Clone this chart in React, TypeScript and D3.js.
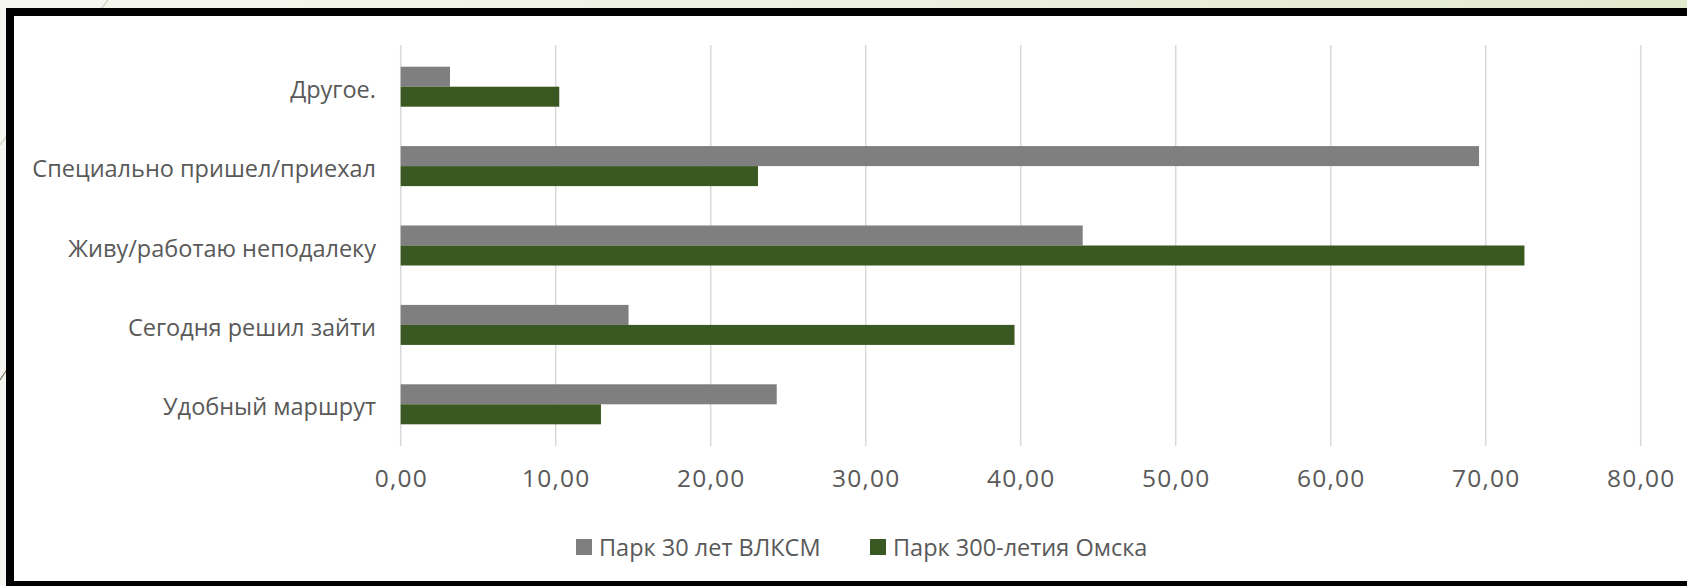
import React from "react";
import * as d3 from "d3";

const categories = [
  "Удобный маршрут",
  "Сегодня решил зайти",
  "Живу/работаю неподалеку",
  "Специально пришел/приехал",
  "Другое.",
];
const seriesNames = ["Парк 30 лет ВЛКСМ", "Парк 300-летия Омска"];
const park30 = [24.26, 14.7, 44.0, 69.57, 3.18];
const park300 = [12.92, 39.6, 72.5, 23.05, 10.23];
const xTicks = [0, 10, 20, 30, 40, 50, 60, 70, 80];
const colors = ["#7f7f7f", "#3a5922"];

const W = 1687;
const H = 586;

export default function App() {
  const x = d3.scaleLinear().domain([0, 80]).range([400.7, 1640.7]);
  const y = d3
    .scaleBand<string>()
    .domain([...categories].reverse())
    .range([47, 444])
    .paddingInner(0)
    .paddingOuter(0);
  const step = y.step();
  const groupH = step * 0.504;
  const barH = groupH / 2;
  const fmt = (v: number) => v.toFixed(2).replace(".", ",");
  const font = "'Open Sans', sans-serif";
  const textColor = "#595959";
  const series = [park30, park300];
  const ls = 1.2;

  return (
    <svg
      width={W}
      height={H}
      style={{ position: "absolute", left: 0, top: 0, display: "block" }}
    >
      <defs>
        <linearGradient id="bg" x1="0" x2="1" y1="0" y2="0">
          <stop offset="0" stopColor="#f6f6f0" />
          <stop offset="0.5" stopColor="#eef0e2" />
          <stop offset="1" stopColor="#e3e9cd" />
        </linearGradient>
      </defs>
      <rect x={0} y={0} width={W} height={H} fill="url(#bg)" />
      <line x1={110} y1={-3} x2={0} y2={145} stroke="#cfd2c2" strokeWidth={1.2} />
      <line x1={40} y1={320} x2={0} y2={380} stroke="#7c7258" strokeWidth={1.2} />
      {/* frame */}
      <rect x={6} y={8} width={W} height={H} fill="#000" />
      <rect x={14} y={16} width={W} height={565} fill="#fff" />
      {/* gridlines */}
      {xTicks.map((t) => (
        <line
          key={"g" + t}
          x1={x(t)}
          x2={x(t)}
          y1={45}
          y2={446}
          stroke="#d9d9d9"
          strokeWidth={1.5}
        />
      ))}
      {/* bars */}
      {categories.map((c, i) =>
        series.map((s, j) => (
          <rect
            key={c + j}
            x={x(0)}
            y={(y(c) as number) + (step - groupH) / 2 + j * barH}
            width={x(s[i]) - x(0)}
            height={barH}
            fill={colors[j]}
          />
        ))
      )}
      {/* category labels */}
      {categories.map((c) => (
        <text
          key={"l" + c}
          x={376}
          y={(y(c) as number) + step / 2 + 11}
          textAnchor="end"
          fontFamily={font}
          fontSize={23.5}
          fill={textColor}
        >
          {c}
        </text>
      ))}
      {/* tick labels */}
      {xTicks.map((t) => (
        <text
          key={"t" + t}
          x={x(t) + ls / 2}
          y={487}
          textAnchor="middle"
          fontFamily={font}
          fontSize={24.5}
          letterSpacing={ls}
          fill={textColor}
        >
          {fmt(t)}
        </text>
      ))}
      {/* legend */}
      {seriesNames.map((n, j) => {
        const lx = [576, 870][j];
        return (
          <g key={"lg" + n}>
            <rect x={lx} y={539} width={16} height={16} fill={colors[j]} />
            <text
              x={lx + 23}
              y={556}
              fontFamily={font}
              fontSize={23.5}
              fill={textColor}
            >
              {n}
            </text>
          </g>
        );
      })}
    </svg>
  );
}
